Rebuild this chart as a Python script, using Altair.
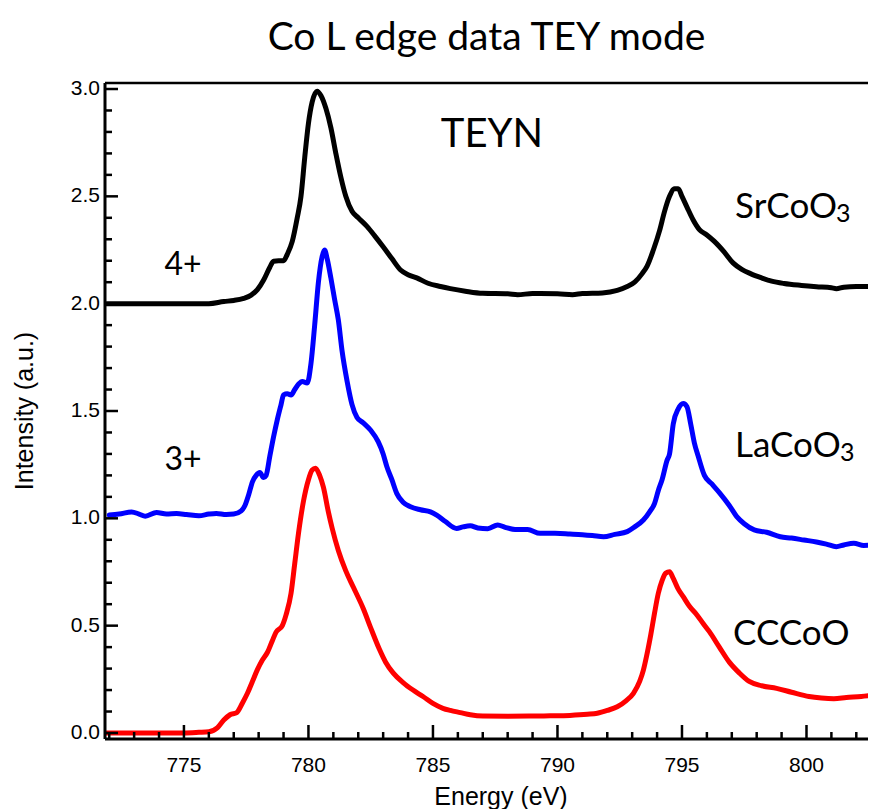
import altair as alt
import pandas as pd

# ---------------- data ----------------
sr_energy = [771.9, 773.0, 774.0, 775.0, 776.0, 776.6, 777.0, 777.4, 777.7, 777.95,
             778.2, 778.45, 778.6, 778.8, 779.0, 779.15, 779.35, 779.55, 779.7, 779.85,
             780.0, 780.15, 780.35, 780.5, 780.7, 780.9, 781.1, 781.3, 781.5, 781.75,
             782.0, 782.35, 782.7, 783.0, 783.35, 783.7, 784.0, 784.35, 784.8, 785.3,
             785.7, 786.3, 787.0, 788.0, 788.4, 789.0, 790.0, 790.6, 791.0, 791.8,
             792.4, 792.8, 793.1, 793.4, 793.6, 793.85, 794.1, 794.3, 794.5, 794.7,
             794.85, 795.0, 795.2, 795.45, 795.7, 796.0, 796.3, 796.7, 797.05, 797.4,
             797.75, 798.2, 798.6, 799.1, 799.8, 800.4, 801.0, 801.2, 801.5, 802.0, 802.8]
sr_intensity = [2.0, 2.0, 2.0, 2.0, 2.0, 2.01, 2.015, 2.025, 2.04, 2.065,
                2.11, 2.17, 2.198, 2.2, 2.2, 2.23, 2.29, 2.40, 2.50, 2.68,
                2.84, 2.94, 2.99, 2.97, 2.91, 2.82, 2.70, 2.59, 2.50, 2.43,
                2.40, 2.36, 2.31, 2.265, 2.21, 2.157, 2.135, 2.12, 2.095, 2.08,
                2.07, 2.058, 2.048, 2.046, 2.042, 2.047, 2.046, 2.042, 2.047, 2.05,
                2.062, 2.08, 2.10, 2.14, 2.175, 2.25, 2.34, 2.43, 2.50, 2.535,
                2.535, 2.50, 2.45, 2.39, 2.345, 2.32, 2.29, 2.24, 2.19, 2.16,
                2.14, 2.12, 2.105, 2.094, 2.085, 2.079, 2.074, 2.07, 2.077, 2.08, 2.08]

la_energy = [772.0, 772.4, 772.9, 773.2, 773.45, 773.9, 774.3, 774.7, 775.1, 775.6,
             776.0, 776.3, 776.7, 777.0, 777.3, 777.45, 777.6, 777.75, 777.9, 778.05,
             778.2, 778.3, 778.45, 778.6, 778.75, 778.9, 779.0, 779.15, 779.3, 779.45,
             779.6, 779.75, 779.95, 780.1, 780.25, 780.4, 780.55, 780.65, 780.75, 780.9,
             781.05, 781.2, 781.35, 781.55, 781.75, 781.95, 782.2, 782.5, 782.8, 783.0,
             783.15, 783.35, 783.55, 783.8, 784.1, 784.5, 784.9, 785.15, 785.5, 785.95,
             786.2, 786.5, 786.8, 787.2, 787.6, 787.9, 788.3, 788.8, 789.3, 789.9,
             790.5, 791.0, 791.4, 791.85, 792.3, 792.8, 793.1, 793.45, 793.7, 793.9,
             794.05, 794.2, 794.4, 794.5, 794.65, 794.85, 795.05, 795.2, 795.35, 795.5,
             795.65, 795.9, 796.2, 796.5, 796.9, 797.2, 797.5, 797.9, 798.4, 798.95,
             799.4, 799.9, 800.4, 800.8, 801.2, 801.5, 801.9, 802.3, 802.8]
la_intensity = [1.015, 1.02, 1.03, 1.02, 1.01, 1.027, 1.02, 1.022, 1.018, 1.012,
                1.02, 1.023, 1.018, 1.02, 1.035, 1.06, 1.11, 1.17, 1.20, 1.213,
                1.19, 1.20, 1.29, 1.38, 1.46, 1.53, 1.575, 1.58, 1.575, 1.60,
                1.625, 1.638, 1.63, 1.72, 1.90, 2.10, 2.22, 2.25, 2.21, 2.12,
                2.02, 1.924, 1.78, 1.64, 1.53, 1.47, 1.445, 1.41, 1.357, 1.30,
                1.24, 1.18, 1.115, 1.075, 1.054, 1.04, 1.03, 1.015, 0.985, 0.953,
                0.96, 0.965, 0.955, 0.952, 0.969, 0.958, 0.948, 0.948, 0.93, 0.93,
                0.927, 0.924, 0.92, 0.914, 0.925, 0.938, 0.96, 0.992, 1.03, 1.07,
                1.13, 1.18, 1.27, 1.30, 1.44, 1.51, 1.535, 1.52, 1.44, 1.35,
                1.29, 1.20, 1.16, 1.12, 1.06, 1.008, 0.975, 0.946, 0.935, 0.914,
                0.908, 0.899, 0.89, 0.88, 0.868, 0.876, 0.884, 0.874, 0.876]

cc_energy = [771.9, 773.0, 774.0, 775.0, 775.6, 776.0, 776.35, 776.6, 776.85, 777.12,
             777.35, 777.55, 777.75, 777.95, 778.15, 778.35, 778.55, 778.7, 778.95, 779.1,
             779.3, 779.45, 779.6, 779.8, 780.0, 780.15, 780.28, 780.45, 780.6, 780.8,
             780.95, 781.2, 781.5, 781.8, 782.2, 782.5, 782.85, 783.1, 783.4, 783.8,
             784.2, 784.6, 785.0, 785.4, 785.7, 786.1, 786.5, 787.0, 788.0, 789.0,
             789.7, 790.5, 791.2, 791.6, 792.0, 792.4, 792.75, 793.05, 793.3, 793.45,
             793.6, 793.75, 793.9, 794.05, 794.2, 794.35, 794.5, 794.65, 794.85, 795.05,
             795.3, 795.6, 795.85, 796.1, 796.5, 796.9, 797.3, 797.7, 798.2, 798.8,
             799.4, 800.1, 800.6, 801.1, 801.6, 802.2, 802.8]
cc_intensity = [0.0, 0.0, 0.0, 0.0, 0.003, 0.006, 0.025, 0.06, 0.085, 0.095,
                0.14, 0.185, 0.24, 0.295, 0.34, 0.375, 0.43, 0.47, 0.50, 0.55,
                0.65, 0.79, 0.93, 1.08, 1.18, 1.225, 1.233, 1.20, 1.145, 1.03,
                0.955, 0.85, 0.755, 0.68, 0.58, 0.49, 0.39, 0.33, 0.28, 0.235,
                0.20, 0.17, 0.138, 0.115, 0.105, 0.095, 0.085, 0.079, 0.078, 0.079,
                0.08, 0.082, 0.087, 0.092, 0.105, 0.122, 0.15, 0.185, 0.24, 0.293,
                0.37, 0.46, 0.56, 0.651, 0.71, 0.745, 0.751, 0.72, 0.67, 0.635,
                0.59, 0.55, 0.51, 0.472, 0.40, 0.33, 0.28, 0.24, 0.22, 0.208,
                0.19, 0.17, 0.163, 0.16, 0.165, 0.17, 0.177]

series_names = ["SrCoO3", "LaCoO3", "CCCoO"]
series_colors = ["#000000", "#0000ff", "#ff0000"]

x_major = [775, 780, 785, 790, 795, 800]
x_minor = [v for v in range(772, 803) if v % 5 != 0]
y_major = [0.0, 0.5, 1.0, 1.5, 2.0, 2.5, 3.0]
y_minor = [round(i / 10, 1) for i in range(1, 30) if i % 5 != 0]

# annotations: text, energy, intensity, font size, align
annotations = [
    ("TEYN", 787.37, 2.73, 40, "center"),
    ("SrCoO", 797.13, 2.399, 35, "left"),
    ("3", 801.18, 2.38, 25, "left"),
    ("LaCoO", 797.13, 1.286, 35, "left"),
    ("3", 801.35, 1.267, 25, "left"),
    ("CCCoO", 797.05, 0.41, 35, "left"),
    ("4+", 774.96, 2.133, 32, "center"),
    ("3+", 774.96, 1.225, 32, "center"),
]

# ---------------- build table ----------------
rows = []
for name, xs, ys in zip(series_names,
                        [sr_energy, la_energy, cc_energy],
                        [sr_intensity, la_intensity, cc_intensity]):
    for x, y in zip(xs, ys):
        rows.append({"series": name, "energy": x, "intensity": y})
df = pd.DataFrame(rows)

W, H = 763, 656
x_scale = alt.Scale(domain=[771.83, 802.47], nice=False, zero=False)
y_scale = alt.Scale(domain=[-0.028, 3.028], nice=False, zero=False)

AX_FONT = "Liberation Sans"
TXT_FONT = "Lato"

XN = alt.X("energy:Q", scale=x_scale, axis=None)
YN = alt.Y("intensity:Q", scale=y_scale, axis=None)

lines = alt.Chart(df).mark_line(strokeWidth=5, interpolate="monotone",
                                strokeCap="round", strokeJoin="round", clip=True).encode(
    x=XN,
    y=YN,
    color=alt.Color("series:N", scale=alt.Scale(domain=series_names, range=series_colors),
                    legend=None),
    detail="series:N",
)

# ---- frame: axis lines (left, bottom) and the top border ----
frame_left = alt.Chart(pd.DataFrame({"k": [0]})).mark_rule(
    color="black", strokeWidth=3).encode(
    x=alt.value(0), y=alt.value(0), y2=alt.value(H))
frame_bottom = alt.Chart(pd.DataFrame({"k": [0]})).mark_rule(
    color="black", strokeWidth=3).encode(
    x=alt.value(0), x2=alt.value(W), y=alt.value(H))
frame_top = alt.Chart(pd.DataFrame({"k": [0]})).mark_rule(
    color="black", strokeWidth=2.5).encode(
    x=alt.value(0), x2=alt.value(W), y=alt.value(0))


# ---- inward ticks at the tick values, placed by the scales ----
def xticks(vals, length):
    return alt.Chart(pd.DataFrame({"energy": vals})).mark_rule(
        color="black", strokeWidth=2.5).encode(
        x=XN, y=alt.value(H), y2=alt.value(H - length))


def yticks(vals, length):
    return alt.Chart(pd.DataFrame({"intensity": vals})).mark_rule(
        color="black", strokeWidth=2.5).encode(
        y=YN, x=alt.value(0), x2=alt.value(length))


# ---- tick labels, placed by the scales ----
x_labels = alt.Chart(pd.DataFrame({"energy": x_major,
                                   "label": [str(v) for v in x_major]})).mark_text(
    font=AX_FONT, fontSize=21, color="black", align="center", baseline="top").encode(
    x=XN, y=alt.value(H + 16), text="label:N")

y_labels = alt.Chart(pd.DataFrame({"intensity": y_major,
                                   "label": [f"{v:.1f}" for v in y_major]})).mark_text(
    font=AX_FONT, fontSize=21, color="black", align="right", baseline="middle").encode(
    y=YN, x=alt.value(-5), text="label:N")

# ---- axis titles ----
x_title = alt.Chart(pd.DataFrame({"t": ["Energy (eV)"]})).mark_text(
    font=AX_FONT, fontSize=25, color="black", align="center", baseline="alphabetic").encode(
    x=alt.value(396), y=alt.value(H + 66), text="t:N")
y_title = alt.Chart(pd.DataFrame({"t": ["Intensity (a.u.)"]})).mark_text(
    font=AX_FONT, fontSize=25, color="black", align="center", baseline="middle",
    angle=270).encode(
    x=alt.value(-80), y=alt.value(328), text="t:N")

text_layers = []
for txt, ex, iy, fs, al in annotations:
    text_layers.append(
        alt.Chart(pd.DataFrame({"energy": [ex], "intensity": [iy], "label": [txt]}))
        .mark_text(font=TXT_FONT, fontSize=fs, align=al, baseline="alphabetic", color="black")
        .encode(x=XN, y=YN, text="label:N")
    )

chart = alt.layer(
    lines,
    xticks(x_major, 14), xticks(x_minor, 7),
    yticks(y_major, 13), yticks(y_minor, 7),
    frame_left, frame_bottom, frame_top,
    x_labels, y_labels, x_title, y_title,
    *text_layers,
).properties(
    width=W, height=H,
    title=alt.Title("Co L edge data TEY mode", font=TXT_FONT, fontSize=39,
                    fontWeight="normal", color="black", anchor="middle",
                    baseline="alphabetic", offset=-11),
    autosize=alt.AutoSizeParams(type="none"),
    padding={"left": 97, "top": 75, "right": 0, "bottom": 70},
).configure_view(stroke=None)

chart.save("out.html", embed_options={"renderer": "svg", "actions": False})
